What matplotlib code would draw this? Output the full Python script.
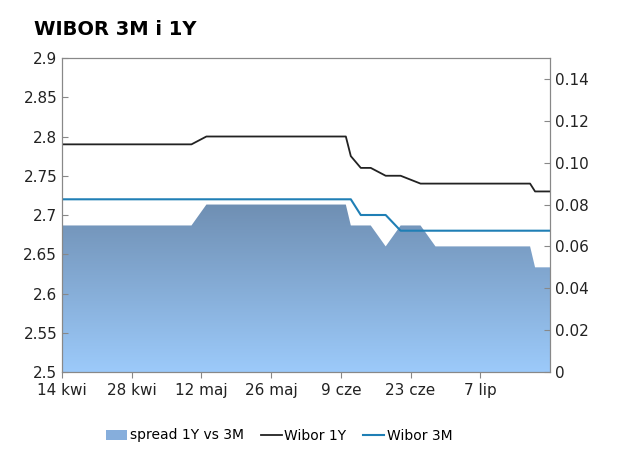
import matplotlib
matplotlib.use("Agg")
import matplotlib.pyplot as plt
import numpy as np
import pandas as pd
from matplotlib.patches import Patch
from matplotlib.lines import Line2D
from matplotlib.colors import LinearSegmentedColormap

dates = ["2014-04-14","2014-05-10","2014-05-13","2014-06-10","2014-06-11","2014-06-13","2014-06-15",
         "2014-06-18","2014-06-21","2014-06-25","2014-06-28","2014-07-12","2014-07-17","2014-07-18","2014-07-21"]
wibor1y = [2.79,2.79,2.80,2.80,2.775,2.76,2.76,2.75,2.75,2.74,2.74,2.74,2.74,2.73,2.73]
wibor3m = [2.72,2.72,2.72,2.72,2.72,2.70,2.70,2.70,2.68,2.68,2.68,2.68,2.68,2.68,2.68]
spread  = [0.07,0.07,0.08,0.08,0.07,0.07,0.07,0.06,0.07,0.07,0.06,0.06,0.06,0.05,0.05]
xticks = ["2014-04-14","2014-04-28","2014-05-12","2014-05-26","2014-06-09","2014-06-23","2014-07-07"]
xticklabels = ["14 kwi","28 kwi","12 maj","26 maj","9 cze","23 cze","7 lip"]

d = pd.to_datetime(dates)
x0 = pd.Timestamp("2014-04-14")
xs = np.array([(t - x0).days for t in d], float)
xt = [(pd.Timestamp(t) - x0).days for t in xticks]

fig = plt.figure(figsize=(6.21, 4.55), dpi=100)
ax = fig.add_axes([62/621, 1-372/455, 488/621, 314/455])
ax2 = ax.twinx()
ax.set_zorder(2); ax.patch.set_visible(False)

ax2.set_ylim(0, 0.15)
poly = ax2.fill_between(xs, 0, spread, color="none", lw=0)
grad = np.linspace(1, 0, 256).reshape(-1, 1)
cmap = LinearSegmentedColormap.from_list("g", ["#9ccafa", "#6f8fb3"])
im = ax2.imshow(grad, cmap=cmap, aspect="auto", extent=[xs[0], xs[-1], 0, 0.08], origin="upper", zorder=1)
im.set_clip_path(poly.get_paths()[0], transform=ax2.transData)
ax2.set_yticks(np.arange(0, 0.141, 0.02))
ax2.set_yticklabels(["0"] + [f"{v:.2f}" for v in np.arange(0.02, 0.141, 0.02)])

ax.plot(xs, wibor1y, color="#222222", lw=1.3)
ax.plot(xs, wibor3m, color="#1f7fb5", lw=1.5)
ax.set_ylim(2.5, 2.9)
ax.set_yticks(np.arange(2.5, 2.91, 0.05))
ax.set_yticklabels([f"{v:g}" for v in np.arange(2.5, 2.91, 0.05).round(2)])
ax.set_xlim(0, xs[-1])
ax2.set_xlim(0, xs[-1])
ax.set_xticks(xt); ax.set_xticklabels(xticklabels)

for a in (ax, ax2):
    a.tick_params(labelsize=11, direction="in", length=4, color="#888888", colors="#222222")
    for s in a.spines.values():
        s.set_color("#888888")
ax.tick_params(axis="x", direction="out", length=4, pad=4)

fig.text(0.055, 0.955, "WIBOR 3M i 1Y", fontsize=14, fontweight="bold", va="top")
handles = [Patch(facecolor="#86aedc", edgecolor="none"),
           Line2D([], [], color="#222222", lw=1.3), Line2D([], [], color="#1f7fb5", lw=1.5)]
fig.legend(handles, ["spread 1Y vs 3M", "Wibor 1Y", "Wibor 3M"], loc="lower center",
           bbox_to_anchor=(0.45, 0.0), ncol=3, frameon=False, fontsize=10, handlelength=1.5,
           columnspacing=1.2, handletextpad=0.2)
fig.savefig("out.png", dpi=100)
